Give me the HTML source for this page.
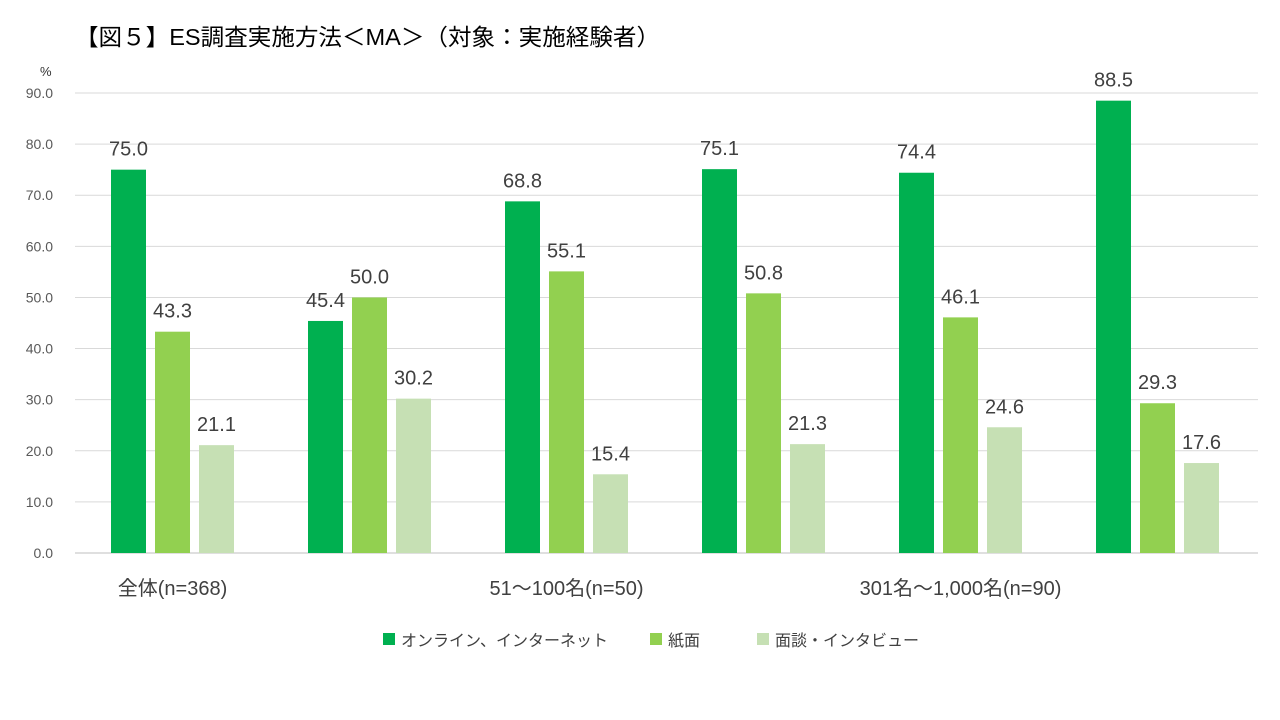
<!DOCTYPE html>
<html><head><meta charset="utf-8">
<style>
body{margin:0;background:#fff;font-family:"Liberation Sans","Noto Sans CJK JP",sans-serif;}
#wrap{position:relative;width:1280px;height:720px;overflow:hidden;}
</style></head>
<body>
<div id="wrap">
<svg id="chart" width="1280" height="720"></svg>
</div>
<script>
const categories = ["全体(n=368)", "", "51～100名(n=50)", "", "301名～1,000名(n=90)", ""];
const seriesNames = ["オンライン、インターネット", "紙面", "面談・インタビュー"];
const online = [75.0, 45.4, 68.8, 75.1, 74.4, 88.5];
const paper = [43.3, 50.0, 55.1, 50.8, 46.1, 29.3];
const interview = [21.1, 30.2, 15.4, 21.3, 24.6, 17.6];
const yTicks = [0, 10, 20, 30, 40, 50, 60, 70, 80, 90];
const colors = ["#00b050", "#92d050", "#c6e0b4"];

const NS = "http://www.w3.org/2000/svg";
const svg = document.getElementById("chart");
const left = 74, right = 1256, y0 = 553, y90 = 93;
const yScale = v => y0 - (v / 90) * (y0 - y90);
const groupW = (right - left) / categories.length;
const xCenter = i => left + groupW * (i + 0.5);
function mk(tag, attrs, text) {
  const e = document.createElementNS(NS, tag);
  for (const k in attrs) e.setAttribute(k, attrs[k]);
  if (text !== undefined) e.textContent = text;
  svg.appendChild(e);
  return e;
}
let t = mk("text", {x: 75, y: 45, "font-size": 23, fill: "#000", textLength: 585, lengthAdjust: "spacingAndGlyphs"}, "【図５】ES調査実施方法＜MA＞（対象：実施経験者）");


t = mk("text", {x: 40, y: 76, "font-size": 13, fill: "#333"}, "%");


yTicks.forEach(v => {
  const y = yScale(v);
  const l = mk("line", {x1: 75, x2: 1258, y1: y, y2: y, stroke: v === 0 ? "#bfbfbf" : "#d9d9d9", "stroke-width": 1});
  
  
  const tx = mk("text", {x: 53, y: y + 5, "font-size": 14, fill: "#595959", "text-anchor": "end"}, v.toFixed(1));
  
  
});
const series = [online, paper, interview];
const bw = 35, step = 44;
series.forEach((vals, s) => {
  vals.forEach((v, i) => {
    const cx = xCenter(i) + (s - 1) * step;
    const y = yScale(v);
    const r = mk("rect", {x: cx - bw / 2, y: y, width: bw, height: y0 - y, fill: colors[s]});
    
    
    const lb = mk("text", {x: cx, y: y - 14, "font-size": 20, fill: "#404040", "text-anchor": "middle"}, v.toFixed(1));
    
    
  });
});
categories.forEach((c, i) => {
  if (!c) return;
  const tx = mk("text", {x: xCenter(i), y: 595, "font-size": 20, fill: "#404040", "text-anchor": "middle"}, c);
  
  
});
const legendX = [383, 650, 757];
seriesNames.forEach((n, s) => {
  const r = mk("rect", {x: legendX[s], y: 633, width: 12, height: 12, fill: colors[s]});
  
  
  const tx = mk("text", {x: legendX[s] + 18, y: 646, "font-size": 16, fill: "#404040"}, n);
  
  
});
</script>
</body></html>
